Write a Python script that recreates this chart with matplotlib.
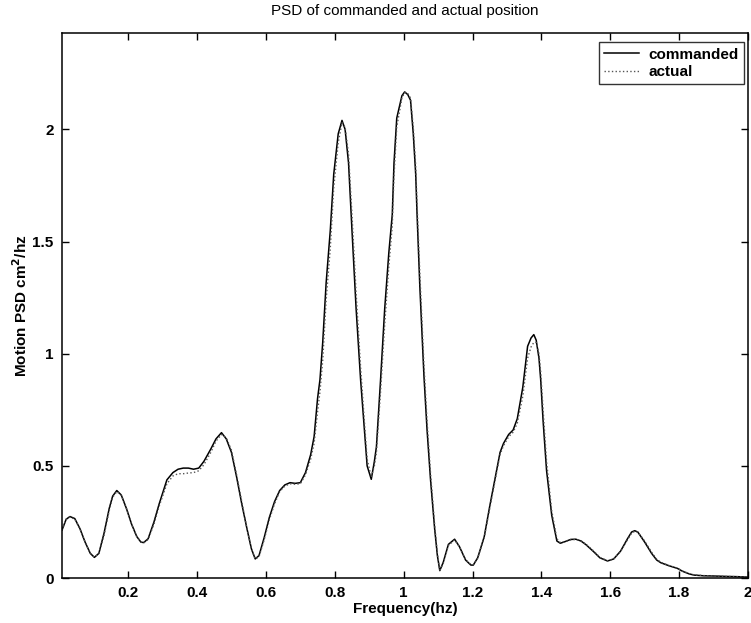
import matplotlib.pyplot as plt
import numpy as np

plt.rcParams['font.family'] = ['Liberation Sans', 'DejaVu Sans']

# PSD estimates, frequency in hz
freq = [0.008, 0.02, 0.031, 0.045, 0.06, 0.075, 0.09, 0.102, 0.115, 0.13,
        0.145, 0.155, 0.167, 0.18, 0.195, 0.21, 0.225, 0.237, 0.245, 0.258,
        0.275, 0.29, 0.3125, 0.33, 0.345, 0.36, 0.375, 0.39, 0.405, 0.42,
        0.44, 0.455, 0.471, 0.485, 0.50, 0.515, 0.53, 0.545, 0.558, 0.569,
        0.58, 0.595, 0.61, 0.625, 0.64, 0.655, 0.67, 0.685, 0.70, 0.715,
        0.73, 0.74, 0.75, 0.757, 0.765, 0.775, 0.787, 0.797, 0.81, 0.821,
        0.83, 0.84, 0.85, 0.862, 0.875, 0.885, 0.894, 0.906, 0.915, 0.921,
        0.933, 0.945, 0.957, 0.967, 0.972, 0.98, 0.995, 1.003, 1.012, 1.02,
        1.028, 1.035, 1.039, 1.047, 1.059, 1.068, 1.078, 1.09, 1.098, 1.105,
        1.115, 1.13, 1.148, 1.162, 1.18, 1.195, 1.202, 1.215, 1.234, 1.25,
        1.265, 1.28, 1.29, 1.305, 1.318, 1.33, 1.346, 1.36, 1.37, 1.378,
        1.385, 1.393, 1.398, 1.405, 1.415, 1.43, 1.445, 1.455, 1.47, 1.485,
        1.50, 1.515, 1.53, 1.552, 1.57, 1.592, 1.61, 1.63, 1.65, 1.662,
        1.671, 1.68, 1.70, 1.72, 1.735, 1.747, 1.77, 1.795, 1.81, 1.83,
        1.844, 1.87, 1.90, 1.94, 1.97, 2.0]

commanded = [0.214, 0.262, 0.274, 0.265, 0.22, 0.16, 0.11, 0.092, 0.11, 0.20,
             0.31, 0.365, 0.39, 0.37, 0.31, 0.24, 0.185, 0.16, 0.158, 0.175,
             0.25, 0.33, 0.4375, 0.47, 0.485, 0.49, 0.49, 0.485, 0.49, 0.52,
             0.575, 0.62, 0.648, 0.62, 0.56, 0.45, 0.33, 0.22, 0.13, 0.085,
             0.10, 0.18, 0.27, 0.34, 0.39, 0.415, 0.425, 0.422, 0.425, 0.47,
             0.55, 0.63, 0.80, 0.884, 1.05, 1.317, 1.55, 1.80, 1.98, 2.04,
             2.00, 1.85, 1.55, 1.20, 0.884, 0.68, 0.50, 0.44, 0.52, 0.586,
             0.884, 1.20, 1.45, 1.62, 1.85, 2.05, 2.15, 2.167, 2.155, 2.13,
             1.98, 1.80, 1.62, 1.30, 0.90, 0.66, 0.44, 0.22, 0.10, 0.033,
             0.07, 0.15, 0.173, 0.14, 0.08, 0.058, 0.057, 0.09, 0.184, 0.32,
             0.44, 0.56, 0.60, 0.64, 0.66, 0.71, 0.85, 1.033, 1.07, 1.085,
             1.06, 0.98, 0.884, 0.70, 0.48, 0.28, 0.165, 0.155, 0.163, 0.172,
             0.173, 0.165, 0.148, 0.117, 0.09, 0.076, 0.085, 0.12, 0.175, 0.205,
             0.211, 0.205, 0.16, 0.11, 0.08, 0.068, 0.055, 0.043, 0.03, 0.018,
             0.013, 0.010, 0.009, 0.007, 0.006, 0.004]

actual = [0.214, 0.262, 0.272, 0.262, 0.22, 0.16, 0.11, 0.093, 0.11, 0.19,
          0.30, 0.36, 0.385, 0.37, 0.31, 0.24, 0.185, 0.16, 0.156, 0.172,
          0.24, 0.32, 0.42, 0.455, 0.465, 0.465, 0.468, 0.47, 0.478, 0.505,
          0.56, 0.61, 0.64, 0.625, 0.57, 0.46, 0.34, 0.22, 0.13, 0.085,
          0.095, 0.17, 0.26, 0.33, 0.385, 0.41, 0.42, 0.418, 0.42, 0.46,
          0.53, 0.60, 0.74, 0.83, 0.97, 1.24, 1.47, 1.74, 1.94, 2.03,
          2.01, 1.89, 1.62, 1.27, 0.94, 0.72, 0.53, 0.45, 0.50, 0.56,
          0.83, 1.13, 1.39, 1.57, 1.79, 2.01, 2.14, 2.165, 2.16, 2.14,
          2.01, 1.84, 1.67, 1.36, 0.95, 0.70, 0.47, 0.24, 0.11, 0.035,
          0.065, 0.145, 0.17, 0.14, 0.082, 0.06, 0.058, 0.088, 0.18, 0.31,
          0.43, 0.55, 0.59, 0.63, 0.65, 0.69, 0.81, 0.98, 1.03, 1.05,
          1.05, 1.00, 0.92, 0.75, 0.52, 0.30, 0.175, 0.158, 0.163, 0.17,
          0.172, 0.166, 0.15, 0.12, 0.092, 0.077, 0.085, 0.118, 0.17, 0.2,
          0.208, 0.205, 0.165, 0.115, 0.083, 0.07, 0.056, 0.044, 0.031, 0.019,
          0.014, 0.011, 0.009, 0.007, 0.006, 0.004]

xticks = [0.2, 0.4, 0.6, 0.8, 1.0, 1.2, 1.4, 1.6, 1.8, 2.0]
xticklabels = ['0.2', '0.4', '0.6', '0.8', '1', '1.2', '1.4', '1.6', '1.8', '2']
yticks = [0, 0.5, 1.0, 1.5, 2.0]
yticklabels = ['0', '0.5', '1', '1.5', '2']

fig = plt.figure(figsize=(7.51, 6.23), dpi=100)
ax = fig.add_axes([0.0826, 0.0722, 0.9134, 0.875])

ax.plot(freq, commanded, color='black', linewidth=1.1, label='commanded')
ax.plot(freq, actual, color='#555555', linestyle=':', linewidth=1.0, label='actual')

ax.set_xlim(0.008, 2.0)
ax.set_ylim(0, 2.43)
ax.set_xticks(xticks)
ax.set_xticklabels(xticklabels)
ax.set_yticks(yticks)
ax.set_yticklabels(yticklabels)
ax.tick_params(direction='in', length=5, width=1, top=True, right=True,
               labelsize=11, pad=6)
for lbl in ax.get_xticklabels() + ax.get_yticklabels():
    lbl.set_fontweight('bold')
for sp in ax.spines.values():
    sp.set_linewidth(1.1)

ax.set_title('PSD of commanded and actual position', fontsize=11, pad=13)
ax.set_xlabel('Frequency(hz)', fontsize=11, fontweight='bold', labelpad=1)
ax.set_ylabel('Motion PSD cm$^\\mathbf{2}$/hz', fontsize=11, fontweight='bold',
              labelpad=2)

leg = ax.legend(loc='upper right', bbox_to_anchor=(0.9985, 0.988), fontsize=11,
                frameon=True, fancybox=False, edgecolor='black',
                handlelength=2.3, handletextpad=0.6, borderpad=0.35,
                labelspacing=0.2, borderaxespad=0.2)
leg.get_frame().set_linewidth(1.0)
for t in leg.get_texts():
    t.set_fontweight('bold')

fig.savefig('out.png', dpi=100)
